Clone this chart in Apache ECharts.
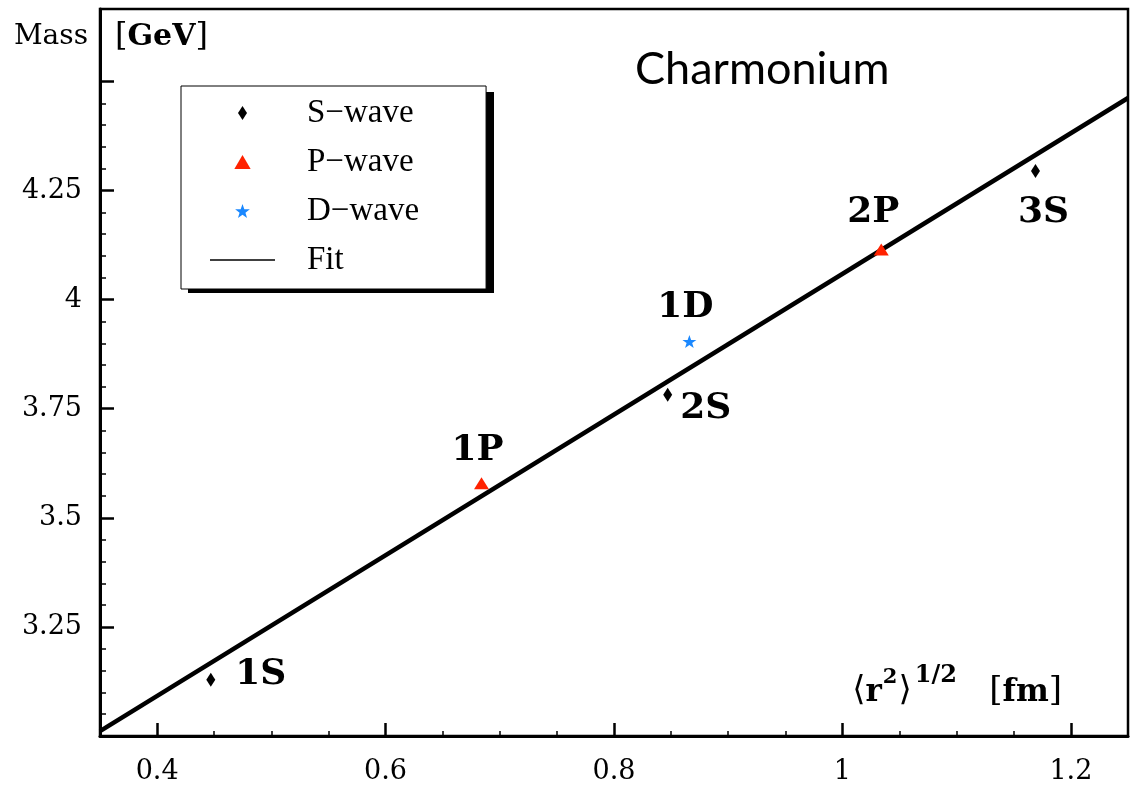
<!DOCTYPE html>
<html>
<head>
<meta charset="utf-8">
<script src="https://cdn.jsdelivr.net/npm/echarts@6/dist/echarts.min.js"></script>
<style>
  html, body { margin: 0; padding: 0; background: #fff; }
  #chart { width: 1132px; height: 785px; }
</style>
</head>
<body>
<div id="chart"></div>
<script>
// Charmonium states: mass versus rms radius
const sWaveStates = ['1S', '2S', '3S'];
const sWaveRadius = [0.447, 0.847, 1.169];
const sWaveMass = [3.129, 3.782, 4.295];

const pWaveStates = ['1P', '2P'];
const pWaveRadius = [0.684, 1.034];
const pWaveMass = [3.579, 4.115];

const dWaveStates = ['1D'];
const dWaveRadius = [0.866];
const dWaveMass = [3.904];

// straight-line fit across the plotted radius range
const fitRadius = [0.35, 1.25];
const fitMass = [3.011, 4.462];

// axis ticks
const xMajorTicks = [0.4, 0.6, 0.8, 1, 1.2];
const xMinorTicks = [0.45, 0.5, 0.55, 0.65, 0.7, 0.75, 0.85, 0.9, 0.95, 1.05, 1.1, 1.15];
const yMajorTicks = [3.25, 3.5, 3.75, 4, 4.25, 4.5];
const yTickLabels = [3.25, 3.5, 3.75, 4, 4.25];
const yMinorTicks = [3.05, 3.1, 3.15, 3.2, 3.3, 3.35, 3.4, 3.45, 3.55, 3.6, 3.65, 3.7,
                     3.8, 3.85, 3.9, 3.95, 4.05, 4.1, 4.15, 4.2, 4.3, 4.35, 4.4, 4.45];

// series names
const S_NAME = 'S\u2212wave';
const P_NAME = 'P\u2212wave';
const D_NAME = 'D\u2212wave';
const FIT_NAME = 'Fit';

// marker shapes
const DIAMOND = 'path://M0,-7L4.5,0L0,7L-4.5,0Z';
const TRIANGLE = 'path://M0,-6L7,6L-7,6Z';
const STAR = 'path://M0,-10L2.35,-3.24L9.51,-3.09L3.8,1.24L5.88,8.09L0,4L-5.88,8.09L-3.8,1.24L-9.51,-3.09L-2.35,-3.24Z';
const RULE = 'path://M0,0H65V1.5H0Z';

const RED = '#ff2200';
const BLUE = '#1a88ff';

// where each state's name sits relative to its marker
const labelOffset = {
  '1S': [50, -5], '2S': [38, 14], '3S': [8, 42],
  '1P': [-4, -33], '2P': [-8, -37], '1D': [-4, -34]
};

function points(names, xs, ys) {
  return names.map((n, i) => ({
    name: n,
    value: [xs[i], ys[i]],
    label: { offset: labelOffset[n] }
  }));
}

const stateLabel = {
  show: true,
  position: 'inside',
  formatter: '{b}',
  fontFamily: 'DejaVu Serif',
  fontWeight: 'bold',
  fontSize: 36,
  color: '#000'
};

const serif = 'DejaVu Serif';

const chart = echarts.init(document.getElementById('chart'), null, { renderer: 'canvas' });

chart.setOption({
  animation: false,
  backgroundColor: '#fff',
  title: {
    text: 'Charmonium',
    left: 630,
    top: 42,
    textStyle: { fontFamily: 'Lato', fontWeight: 'normal', fontSize: 45, color: '#000' }
  },
  grid: {
    left: 100, right: 4, top: 9, bottom: 47,
    show: true, borderColor: '#000', borderWidth: 2.5, backgroundColor: 'transparent'
  },
  // solid drop shadow behind the legend box
  graphic: [{
    type: 'rect',
    left: 188, top: 92, z: 1,
    shape: { width: 306, height: 201 },
    style: { fill: '#000' }
  }],
  legend: {
    orient: 'vertical',
    left: 181,
    top: 86,
    z: 5,
    padding: [10, 67, 12, 29],
    itemGap: 15,
    itemWidth: 65,
    itemHeight: 14,
    backgroundColor: '#fff',
    borderColor: '#000',
    borderWidth: 1,
    selectedMode: false,
    textStyle: {
      fontFamily: 'Liberation Serif', fontSize: 33, lineHeight: 34, color: '#000',
      padding: [0, 0, 0, 27]
    },
    data: [
      { name: S_NAME, icon: DIAMOND },
      { name: P_NAME, icon: TRIANGLE },
      { name: D_NAME, icon: STAR },
      { name: FIT_NAME, icon: RULE }
    ]
  },
  xAxis: [
    {
      type: 'value', min: 0.35, max: 1.25, position: 'bottom',
      axisLine: { show: true, onZero: false, lineStyle: { color: '#000', width: 3 } },
      axisTick: { show: true, inside: true, length: 13, customValues: xMajorTicks,
                  lineStyle: { color: '#000', width: 2.5 } },
      axisLabel: { show: true, customValues: xMajorTicks, margin: 22,
                   fontFamily: serif, fontSize: 27, color: '#000' },
      splitLine: { show: false },
      name: '{a|\u27E8}{b|r}{s|2}{a|\u27E9}{h|1/2}{a|   [}{b|fm}{a|]}',
      nameLocation: 'end',
      nameGap: -66,
      nameTextStyle: {
        align: 'right',
        verticalAlign: 'bottom',
        padding: [0, 0, 28, 0],
        rich: {
          a: { fontFamily: serif, fontSize: 34, lineHeight: 44, color: '#000', verticalAlign: 'bottom' },
          b: { fontFamily: serif, fontWeight: 'bold', fontSize: 31, lineHeight: 44, color: '#000', verticalAlign: 'bottom' },
          s: { fontFamily: serif, fontWeight: 'bold', fontSize: 21, lineHeight: 44, color: '#000', verticalAlign: 'top', padding: [3, 1, 0, 1] },
          h: { fontFamily: serif, fontWeight: 'bold', fontSize: 24, lineHeight: 44, color: '#000', verticalAlign: 'top', padding: [0, 0, 0, 3] }
        }
      }
    },
    {
      type: 'value', min: 0.35, max: 1.25, position: 'bottom',
      axisLine: { show: false },
      axisTick: { show: true, inside: true, length: 5, customValues: xMinorTicks,
                  lineStyle: { color: '#000', width: 1.5 } },
      axisLabel: { show: false },
      splitLine: { show: false }
    }
  ],
  yAxis: [
    {
      type: 'value', min: 3.0, max: 4.666, position: 'left',
      axisLine: { show: true, onZero: false, lineStyle: { color: '#000', width: 3 } },
      axisTick: { show: true, inside: true, length: 14, customValues: yMajorTicks,
                  lineStyle: { color: '#000', width: 2.5 } },
      axisLabel: { show: true, customValues: yTickLabels, margin: 18,
                   fontFamily: serif, fontSize: 27, color: '#000' },
      splitLine: { show: false },
      name: 'Mass',
      nameLocation: 'end',
      nameGap: -28,
      nameTextStyle: {
        align: 'right', verticalAlign: 'middle', padding: [0, 12, 0, 0],
        fontFamily: serif, fontSize: 28, color: '#000'
      }
    },
    {
      type: 'value', min: 3.0, max: 4.666, position: 'left',
      axisLine: { show: false },
      axisTick: { show: true, inside: true, length: 6, customValues: yMinorTicks,
                  lineStyle: { color: '#000', width: 1.5 } },
      axisLabel: { show: false },
      splitLine: { show: false },
      name: '{n|[}{g|GeV}{n|]}',
      nameLocation: 'end',
      nameGap: -28,
      nameTextStyle: {
        align: 'left', verticalAlign: 'middle', padding: [0, 0, 0, 15],
        rich: {
          n: { fontFamily: serif, fontSize: 32, color: '#000' },
          g: { fontFamily: serif, fontWeight: 'bold', fontSize: 30, color: '#000' }
        }
      }
    }
  ],
  series: [
    {
      name: FIT_NAME,
      type: 'line',
      xAxisIndex: 0, yAxisIndex: 0,
      data: fitRadius.map((x, i) => [x, fitMass[i]]),
      symbol: 'none',
      clip: true,
      lineStyle: { color: '#000', width: 4.5 },
      itemStyle: { color: '#000' },
      z: 2
    },
    {
      name: S_NAME,
      type: 'scatter',
      data: points(sWaveStates, sWaveRadius, sWaveMass),
      symbol: DIAMOND,
      symbolSize: [9, 14],
      itemStyle: { color: '#000', opacity: 1 },
      label: stateLabel,
      z: 3
    },
    {
      name: P_NAME,
      type: 'scatter',
      data: points(pWaveStates, pWaveRadius, pWaveMass),
      symbol: TRIANGLE,
      symbolSize: [15, 12],
      itemStyle: { color: RED, opacity: 1 },
      label: stateLabel,
      z: 3
    },
    {
      name: D_NAME,
      type: 'scatter',
      data: points(dWaveStates, dWaveRadius, dWaveMass),
      symbol: STAR,
      symbolSize: [14, 13],
      itemStyle: { color: BLUE, opacity: 1 },
      label: stateLabel,
      z: 3
    }
  ]
});
</script>
</body>
</html>
